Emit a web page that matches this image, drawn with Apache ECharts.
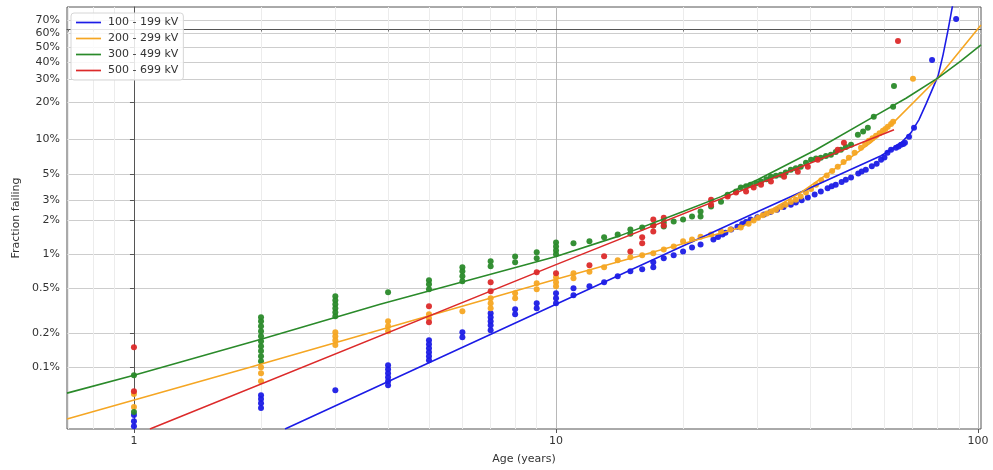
<!DOCTYPE html>
<html><head><meta charset="utf-8">
<script src="https://cdn.jsdelivr.net/npm/echarts@6/dist/echarts.min.js"></script>
<style>html,body{margin:0;padding:0;background:#fff}#c{width:993px;height:470px}</style>
</head><body><div id="c"></div>
<script>
// ---------------- data (age in years, fraction failing in %) ----------------
const seriesNames = ['100 - 199 kV', '200 - 299 kV', '300 - 499 kV', '500 - 699 kV'];
const seriesColors = ['#1c1ce6', '#f5a623', '#2a8a2a', '#dc2a2a'];

const xRange = [0.694, 101.6];          // age axis range (years)
const yRange = [0.0283, 79.2];          // fraction-failing axis range (%)
const xMajorTicks = [1, 10, 100];
const xMajorLabels = ['1', '10', '100'];
const xMinorTicks = [0.7, 0.8, 0.9, 2, 3, 4, 5, 6, 7, 8, 9, 20, 30, 40, 50, 60, 70, 80, 90];
const yTickPct = [0.1, 0.2, 0.5, 1, 2, 3, 5, 10, 20, 30, 40, 50, 60, 70];
const yTickLabels = ['0.1%', '0.2%', '0.5%', '1%', '2%', '3%', '5%', '10%', '20%', '30%', '40%', '50%', '60%', '70%'];

const bluePoints = [
  [1,0.0376],[1,0.0332],[1,0.030],
  [2,0.0565],[2,0.0521],[2,0.048],[2,0.0434],
  [3,0.0626],
  [4,0.104],[4,0.096],[4,0.0885],[4,0.0816],[4,0.0752],[4,0.0693],
  [5,0.173],[5,0.160],[5,0.147],[5,0.136],[5,0.125],[5,0.115],
  [6,0.204],[6,0.184],
  [7,0.301],[7,0.277],[7,0.255],[7,0.235],[7,0.213],
  [8,0.326],[8,0.295],
  [9,0.369],[9,0.333],
  [10,0.452],[10,0.408],[10,0.369],
  [11,0.500],[11,0.434],
  [12,0.521],[13,0.566],[14,0.639],[15,0.708],[16,0.737],[17,0.85],[17,0.768],[18,0.922],[19,0.98],[20,1.06],[21,1.15],[22,1.22],
  [23.6,1.35],[24.2,1.42],[24.8,1.49],[25.2,1.55],[26,1.65],[26.9,1.75],[27.6,1.85],[28.2,1.92],[28.9,2.02],[30,2.12],[31.1,2.24],
  [32.2,2.36],[33.4,2.47],[34.6,2.6],[36.0,2.73],[37,2.85],[38.2,2.98],[39.5,3.15],[41,3.35],[42.4,3.55],[44,3.8],[45,3.95],
  [46.0,4.08],[47.5,4.3],[48.6,4.5],[50.0,4.70],[52,5.1],[53,5.3],[54.2,5.50],[56,5.9],[57.5,6.2],[58.9,6.71],[60,7.0],[61,7.7],
  [62.2,8.16],[63.9,8.49],[64.8,8.7],[65.7,8.99],[66.5,9.1],[67.1,9.35],[68.6,10.5],[70.5,12.5],[77.8,41.3],[88.7,70.7]
];
const orangePoints = [
  [1,0.0577],[1,0.0443],
  [2,0.100],[2,0.0885],[2,0.0752],
  [3,0.204],[3,0.188],[3,0.173],[3,0.157],
  [4,0.255],[4,0.231],[4,0.208],
  [5,0.295],[5,0.272],
  [6,0.313],
  [7,0.408],[7,0.369],[7,0.333],
  [8,0.452],[8,0.408],
  [9,0.554],[9,0.49],
  [10,0.626],[10,0.566],[10,0.521],
  [11,0.679],[11,0.614],
  [12,0.70],[13,0.768],[14,0.885],[15,0.94],[16,0.98],[17,1.02],[18,1.10],[19,1.17],[20,1.30],[21,1.35],[22,1.43],[23.3,1.49],
  [24.6,1.59],[25.9,1.65],[27.4,1.72],[28.6,1.86],[29.4,1.98],[30.1,2.10],[30.9,2.2],[31.6,2.28],[32.4,2.38],[33.2,2.47],[34.1,2.6],
  [35.0,2.73],[36,2.88],[37.0,3.02],[38,3.22],[39.1,3.48],[40.2,3.75],[41.3,4.08],[42.5,4.45],[43.8,4.89],[45.1,5.35],[46.5,5.84],
  [48,6.4],[49.4,6.98],[51,7.7],[52.8,8.49],[54,9.1],[55.1,9.72],[56.2,10.2],[57.3,10.7],[58.4,11.2],[59.5,11.8],[60.3,12.2],
  [61.1,12.7],[62.2,13.4],[62.9,14.0],[70.1,30.4]
];
const greenPoints = [
  [1,0.085],[1,0.040],
  [2,0.277],[2,0.255],[2,0.231],[2,0.208],[2,0.188],[2,0.170],[2,0.153],[2,0.139],[2,0.125],[2,0.113],
  [3,0.425],[3,0.392],[3,0.361],[3,0.333],[3,0.307],[3,0.283],
  [4,0.461],
  [5,0.589],[5,0.543],[5,0.49],
  [6,0.768],[6,0.708],[6,0.639],[6,0.577],
  [7,0.868],[7,0.784],
  [8,0.956],[8,0.85],
  [9,1.04],[9,0.922],
  [10,1.27],[10,1.17],[10,1.08],[10,1.00],
  [11,1.25],[12,1.30],[13,1.41],[14,1.49],[15,1.65],[15,1.52],[16,1.72],[17,1.79],[18,1.90],[18,1.76],[19,1.94],[20,2.02],
  [21,2.15],[22,2.38],[22,2.15],[23.3,2.63],[24.6,2.9],
  [25.5,3.34],[26.7,3.55],[27.4,3.85],[28.2,3.95],[28.9,4.08],[29.8,4.2],[30.6,4.34],[31.5,4.55],[32.3,4.79],[33.2,4.88],[34.1,4.98],
  [35,5.2],[36.0,5.50],[37,5.65],[38.0,5.84],[39.1,6.3],[40.2,6.71],[41.3,6.85],[42.4,6.98],[43.6,7.2],[44.8,7.40],[46,7.8],
  [47.3,8.16],[48.6,8.6],[50.0,8.99],[51.9,10.9],[53.4,11.6],[54.8,12.5],[56.6,15.4],[62.9,18.5],[63.2,26.9]
];
const redPoints = [
  [1,0.150],[1,0.0613],
  [5,0.347],[5,0.25],
  [7,0.566],[7,0.471],
  [9,0.693],[10,0.679],[12,0.80],[13,0.96],[15,1.06],[16,1.41],[16,1.25],[17,2.02],[17,1.79],[17,1.59],[18,2.10],[18,1.79],
  [23.3,3.02],[23.3,2.73],
  [25.5,3.21],[26.7,3.48],[28.2,3.55],[29.4,3.85],[30.6,4.08],[32.3,4.34],[34.7,4.79],[37.4,5.29],[39.5,5.84],[41.7,6.71],
  [46.5,8.16],[48.1,9.35],[64.6,54.4]
];

// fitted curves
const blueFit = [[2.28,0.0283],[10,0.361],[30.1,2.38],[58.9,7.25],[62.2,8.16],[65.7,9.35],[69.3,11.3],[72.4,14.5],[75.3,19.5],
  [77.8,25.1],[80.4,31.9],[82.6,44.6],[84.9,62.6],[87.3,82.4]];
const orangeFit = [[0.694,0.0347],[1.884,0.100],[10,0.601],[27.4,1.72],[38.0,3.48],[47.3,6.08],[55.7,9.35],[62.9,13.7],[80.4,30.9],[101.6,66.3]];
const greenFit = [[0.694,0.0589],[1,0.085],[2,0.177],[3.83,0.361],[10,0.956],[14.2,1.46],[20,2.38],[24.6,3.21],[30.1,4.52],
  [41.3,8.16],[56.6,15.4],[67.5,21.6],[80.4,30.9],[91.1,40.7],[101.6,51.5]];
const redFit = [[1.091,0.0283],[10,0.81],[63.2,12.0]];

// ---------------- transforms ----------------
const W = p => Math.log(-Math.log(1 - p / 100));   // Weibull probability scale
const L = a => Math.log10(a);                       // log age scale
const toXY = pts => pts.map(([a, p]) => [L(a), W(p)]);
const near = (a, b) => Math.abs(a - b) < 1e-4;

const font = 'DejaVu Sans';
const pointSets = [bluePoints, orangePoints, greenPoints, redPoints];
const fitSets = [blueFit, orangeFit, greenFit, redFit];

const series = [];
pointSets.forEach((pts, i) => {
  series.push({
    name: seriesNames[i] + ' data', type: 'scatter', data: toXY(pts),
    symbolSize: 6, itemStyle: { color: seriesColors[i], opacity: 0.95 }, z: 3, silent: true
  });
});
fitSets.forEach((pts, i) => {
  series.push({
    name: seriesNames[i], type: 'line', data: toXY(pts), showSymbol: false, symbol: 'none', smooth: false,
    lineStyle: { color: seriesColors[i], width: 1.6 }, itemStyle: { color: seriesColors[i] },
    z: 4, clip: true, silent: true
  });
});

const chart = echarts.init(document.getElementById('c'));
chart.setOption({
  animation: false,
  backgroundColor: '#fff',
  textStyle: { fontFamily: font },
  grid: { left: 67, right: 12, top: 7, bottom: 40, show: true, borderColor: '#555', borderWidth: 1, backgroundColor: 'transparent' },
  legend: {
    data: seriesNames.map(n => ({ name: n, icon: 'path://M0,0 L50,0 L50,3.4 L0,3.4 Z' })),
    orient: 'vertical', left: 71, top: 13,
    padding: [4, 5], itemGap: 5, itemWidth: 25, itemHeight: 12,
    backgroundColor: 'rgba(255,255,255,0.85)', borderColor: '#d6d6d6', borderWidth: 1, borderRadius: 3,
    textStyle: { fontFamily: font, fontSize: 11, color: '#333', padding: [0, 0, 0, 2] }
  },
  xAxis: [
    {
      type: 'value', min: L(xRange[0]), max: L(xRange[1]), position: 'bottom',
      name: 'Age (years)', nameLocation: 'middle', nameGap: 25,
      nameTextStyle: { fontFamily: font, fontSize: 11, color: '#333' },
      axisLine: { show: true, lineStyle: { color: '#555' } },
      axisTick: { show: true, customValues: xMinorTicks.map(L), length: 2.5, lineStyle: { color: '#777' } },
      axisLabel: {
        customValues: xMajorTicks.map(L), margin: 7, fontFamily: font, fontSize: 11, color: '#333',
        formatter: v => { const i = xMajorTicks.findIndex(a => near(L(a), v)); return i >= 0 ? xMajorLabels[i] : ''; }
      },
      splitLine: { show: true, lineStyle: { color: '#ececec', width: 1 } }
    },
    {
      type: 'value', min: L(xRange[0]), max: L(xRange[1]), position: 'bottom', gridIndex: 0,
      axisLine: { show: false },
      axisTick: { show: true, customValues: xMajorTicks.map(L), length: 4, lineStyle: { color: '#555' } },
      axisLabel: { show: false },
      splitLine: { show: true, lineStyle: { color: '#b8b8b8', width: 1 } }
    }
  ],
  yAxis: {
    type: 'value', min: W(yRange[0]), max: W(yRange[1]),
    name: 'Fraction failing', nameLocation: 'middle', nameGap: 43,
    nameTextStyle: { fontFamily: font, fontSize: 11, color: '#333' },
    axisLine: { show: true, lineStyle: { color: '#555' } },
    axisTick: { show: true, customValues: yTickPct.map(W), length: 4, lineStyle: { color: '#555' } },
    axisLabel: {
      customValues: yTickPct.map(W), margin: 7, fontFamily: font, fontSize: 11, color: '#333',
      formatter: v => { const i = yTickPct.findIndex(p => near(W(p), v)); return i >= 0 ? yTickLabels[i] : ''; }
    },
    splitLine: { show: true, lineStyle: { color: '#cdcdcd', width: 1.2 } }
  },
  series: series
});
</script>
</body></html>
